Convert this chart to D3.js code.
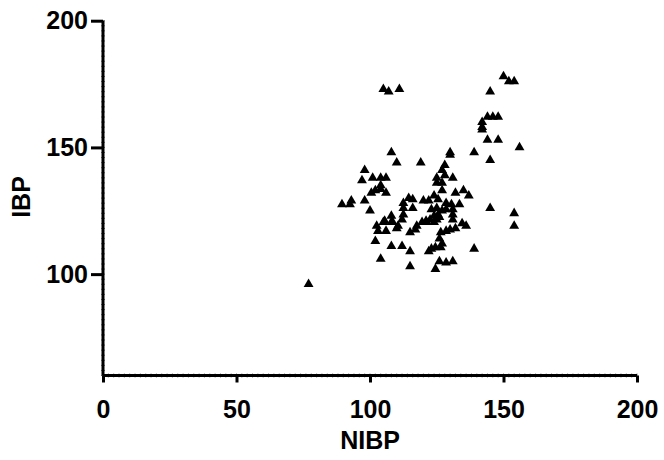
<!DOCTYPE html>
<html><head><meta charset="utf-8">
<script src="https://cdn.jsdelivr.net/npm/d3@7"></script>
<style>body{margin:0;background:#fff}svg{display:block}text{font-family:"Liberation Sans",Arial,sans-serif;font-weight:bold}</style>
</head><body>
<script>
const xTicks = [0, 50, 100, 150, 200];
const yTicks = [100, 150, 200];
const xLabel = "NIBP";
const yLabel = "IBP";
const nibp = [77,105,107,111,150,152,154,145,144,146,148,142,142,142,144,148,156,139,130,130,108,145,110,119,128,127,98,97,101,104,106,125,128,131,127,125,104,104,106,100.5,102,98,89.5,92.5,93,100,127,132,135,137,114.5,116,112.5,112.5,116,120,122,124,125.5,123,125,127,128.5,128.5,130.5,131,133.5,145,154,154,105.5,108,108.5,112,112.5,102.5,103,106,110,110.5,115,117,117.5,119.5,121,122.5,124,125,126,125.5,130,132,134.5,136,128.5,131,131,126.5,126,127,102,108,112,115,122,123,124.5,126.5,139,104,115,124.5,126,128.5,131,105,124,121,108];
const ibp = [96,173,172,173,178,176,176,172,162,162,162,160,158,157,153,153,150,148,148,147,148,145,144,144,143,141,141,137,138,138,138,138,139,138,136,136,135,133.5,132,132,133,129,127.5,127.5,129,125,133,132,133,131,130,129.5,128,126,126,129,129,131,129.5,125.5,126,125,125.5,128,127.5,125.5,127.5,126,124,119,121,123,120.5,121.5,123.5,119,117,117,118,119,116.5,117.5,119,120.5,121,121.5,123,121.5,122.5,123.5,117.5,118,120,119,117,123.5,121.5,116.5,114,112,113,111,111,109,109,110,110.5,110.5,110,106,103,102,105,104.5,105,120.5,120.5,120.5,120.5];

const W = 664, H = 460;
const svg = d3.select("body").append("svg").attr("width", W).attr("height", H);
const x = d3.scaleLinear().domain([0, 200]).range([103, 637]);
const y = d3.scaleLinear().domain([60, 200]).range([375.5, 20.7]);

// minor ticks
const g = svg.append("g");
g.selectAll("line.mx").data(d3.range(0, 201, 2)).join("line")
  .attr("x1", d => x(d)).attr("x2", d => x(d)).attr("y1", y(60) - 2).attr("y2", y(60) + 2)
  .attr("stroke", "#444").attr("stroke-width", 0.7);
g.selectAll("line.my").data(d3.range(60, 201, 2)).join("line")
  .attr("y1", d => y(d)).attr("y2", d => y(d)).attr("x1", x(0) - 2).attr("x2", x(0) + 2)
  .attr("stroke", "#444").attr("stroke-width", 0.7);

// x axis
const xa = svg.append("g").attr("transform", `translate(0,${y(60)})`)
  .call(d3.axisBottom(x).tickValues(xTicks).tickSize(7).tickPadding(18).tickFormat(d3.format("d")));
xa.select(".domain").attr("stroke-width", 3).attr("d", `M${x(0)},0H${x(200)}`);
xa.selectAll(".tick line").attr("stroke-width", 3);
xa.selectAll("text").attr("font-size", 25).attr("fill", "#000");

// y axis
const ya = svg.append("g").attr("transform", `translate(${x(0)},0)`)
  .call(d3.axisLeft(y).tickValues(yTicks).tickSize(12).tickPadding(3).tickFormat(d3.format("d")));
ya.select(".domain").attr("stroke-width", 3).attr("d", `M0,${y(60)}V${y(200)}`);
ya.selectAll(".tick line").attr("stroke-width", 3);
ya.selectAll("text").attr("font-size", 25).attr("fill", "#000");

svg.append("text").attr("x", 370).attr("y", 449).attr("text-anchor", "middle")
  .attr("font-size", 25).text(xLabel);
svg.append("text").attr("transform", "translate(30,197) rotate(-90)").attr("text-anchor", "middle")
  .attr("font-size", 25).text(yLabel);

const tri = d3.symbol().type(d3.symbolTriangle).size(42);
svg.append("g").selectAll("path").data(nibp.map((v, i) => [v, ibp[i]])).join("path")
  .attr("d", tri).attr("transform", d => `translate(${x(d[0])},${y(d[1])})`).attr("fill", "#000");
</script>
</body></html>
